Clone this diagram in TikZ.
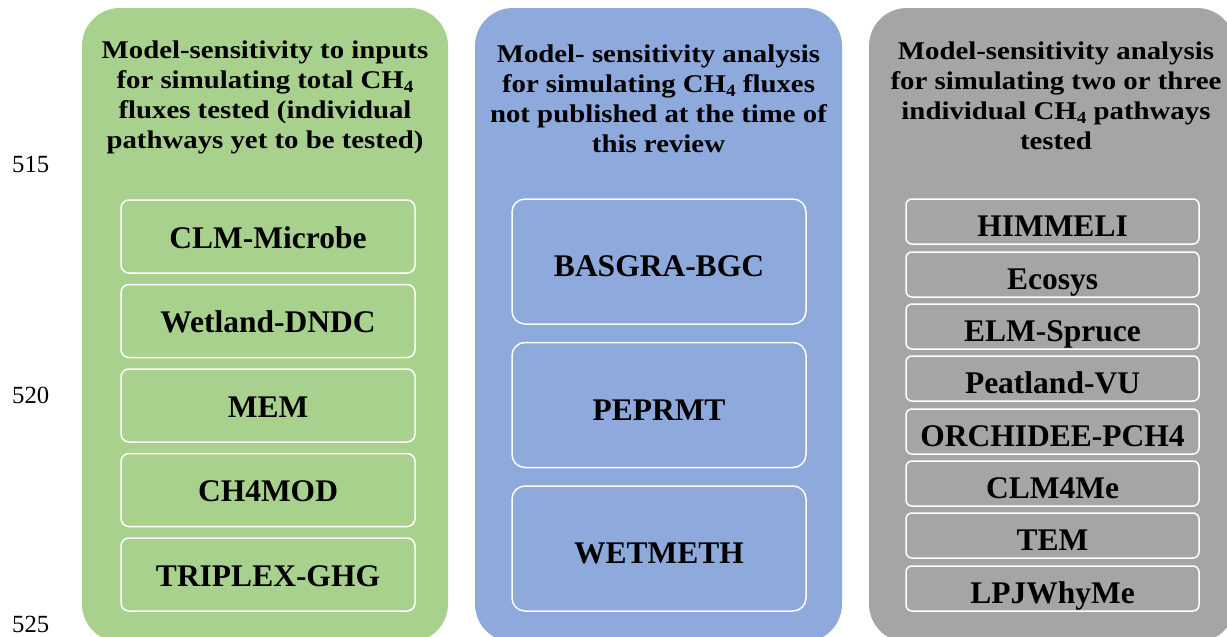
\documentclass[tikz,border=0pt]{standalone}
\usepackage{fontspec}
\setmainfont{Liberation Serif}
\newfontfamily\headfont[FakeStretch=1.13]{Liberation Serif}
\definecolor{panelgreen}{HTML}{A9D18E}
\definecolor{panelblue}{HTML}{8EA9DB}
\definecolor{panelgrey}{HTML}{A5A5A5}
% methane with a bold subscript four
\newcommand{\chfour}{CH\raisebox{-4pt}{\fontsize{17}{17}\selectfont 4}}

\begin{document}
\begin{tikzpicture}[x=1pt, y=-1pt,
  panel/.style={rectangle, rounded corners=38pt, minimum width=366pt,
    minimum height=634pt, inner sep=0pt},
  header/.style={anchor=north, align=center, inner sep=0pt,
    font=\headfont\bfseries\fontsize{25.5}{30}\selectfont},
  model/.style={rectangle, draw=white, line width=1.5pt, inner sep=0pt,
    text height=23.5pt, text depth=0pt,
    font=\bfseries\fontsize{31.5}{34}\selectfont},
  greenbox/.style={model, rounded corners=8pt, minimum width=294pt, minimum height=73pt},
  bluebox/.style={model, rounded corners=13pt, minimum width=294pt, minimum height=125pt, text height=30pt},
  greybox/.style={model, rounded corners=6pt, minimum width=293pt, minimum height=45pt, text height=30pt},
  linenum/.style={anchor=base west, inner sep=0pt, font=\fontsize{24.7}{26}\selectfont}]

\useasboundingbox (0,0) rectangle (1227,637);

% line numbers in the margin
\node[linenum] (ln515) at (12,172) {515};
\node[linenum] (ln520) at (12,403) {520};
\node[linenum] (ln525) at (12,632) {525};

% three coloured columns
\node[panel, fill=panelgreen] (gpanel) at (265,325) {};
\node[panel, fill=panelblue, minimum width=367pt] (bpanel) at (658.5,325) {};
\node[panel, fill=panelgrey] (ypanel) at (1052,325) {};

% column headings
\node[header] (ghead) at (265,40.7) {Model-sensitivity to inputs\\for simulating total \chfour\\fluxes tested (individual\\pathways yet to be tested)};
\node[header] (bhead) at (658.5,44.5) {Model- sensitivity analysis\\for simulating \chfour{} fluxes\\not published at the time of\\this review};
\node[header] (yhead) at (1056,41.5) {Model-sensitivity analysis\\for simulating two or three\\individual \chfour{} pathways\\tested};

% models tested for total fluxes
\node[greenbox] (clmmic) at (268,236.5) {CLM-Microbe};
\node[greenbox] (wdndc)  at (268,321)   {Wetland-DNDC};
\node[greenbox] (mem)    at (268,405.5) {MEM};
\node[greenbox] (ch4mod) at (268,490)   {CH4MOD};
\node[greenbox] (triplex) at (268,574.5) {TRIPLEX-GHG};

% models with unpublished analyses
\node[bluebox] (basgra)  at (659,261.5) {BASGRA-BGC};
\node[bluebox] (peprmt)  at (659,405)   {PEPRMT};
\node[bluebox] (wetmeth) at (659,548.5) {WETMETH};

% models tested for individual pathways
\node[greybox] (himmeli)  at (1052.5,221.5) {HIMMELI};
\node[greybox] (ecosys)   at (1052.5,274.5) {Ecosys};
\node[greybox] (elm)      at (1052.5,326.5) {ELM-Spruce};
\node[greybox] (peatvu)   at (1052.5,378.5) {Peatland-VU};
\node[greybox] (orchidee) at (1052.5,431.5) {ORCHIDEE-PCH4};
\node[greybox] (clm4me)   at (1052.5,483.5) {CLM4Me};
\node[greybox] (tem)      at (1052.5,535.5) {TEM};
\node[greybox] (lpj)      at (1052.5,588.5) {LPJWhyMe};
\end{tikzpicture}
\end{document}
